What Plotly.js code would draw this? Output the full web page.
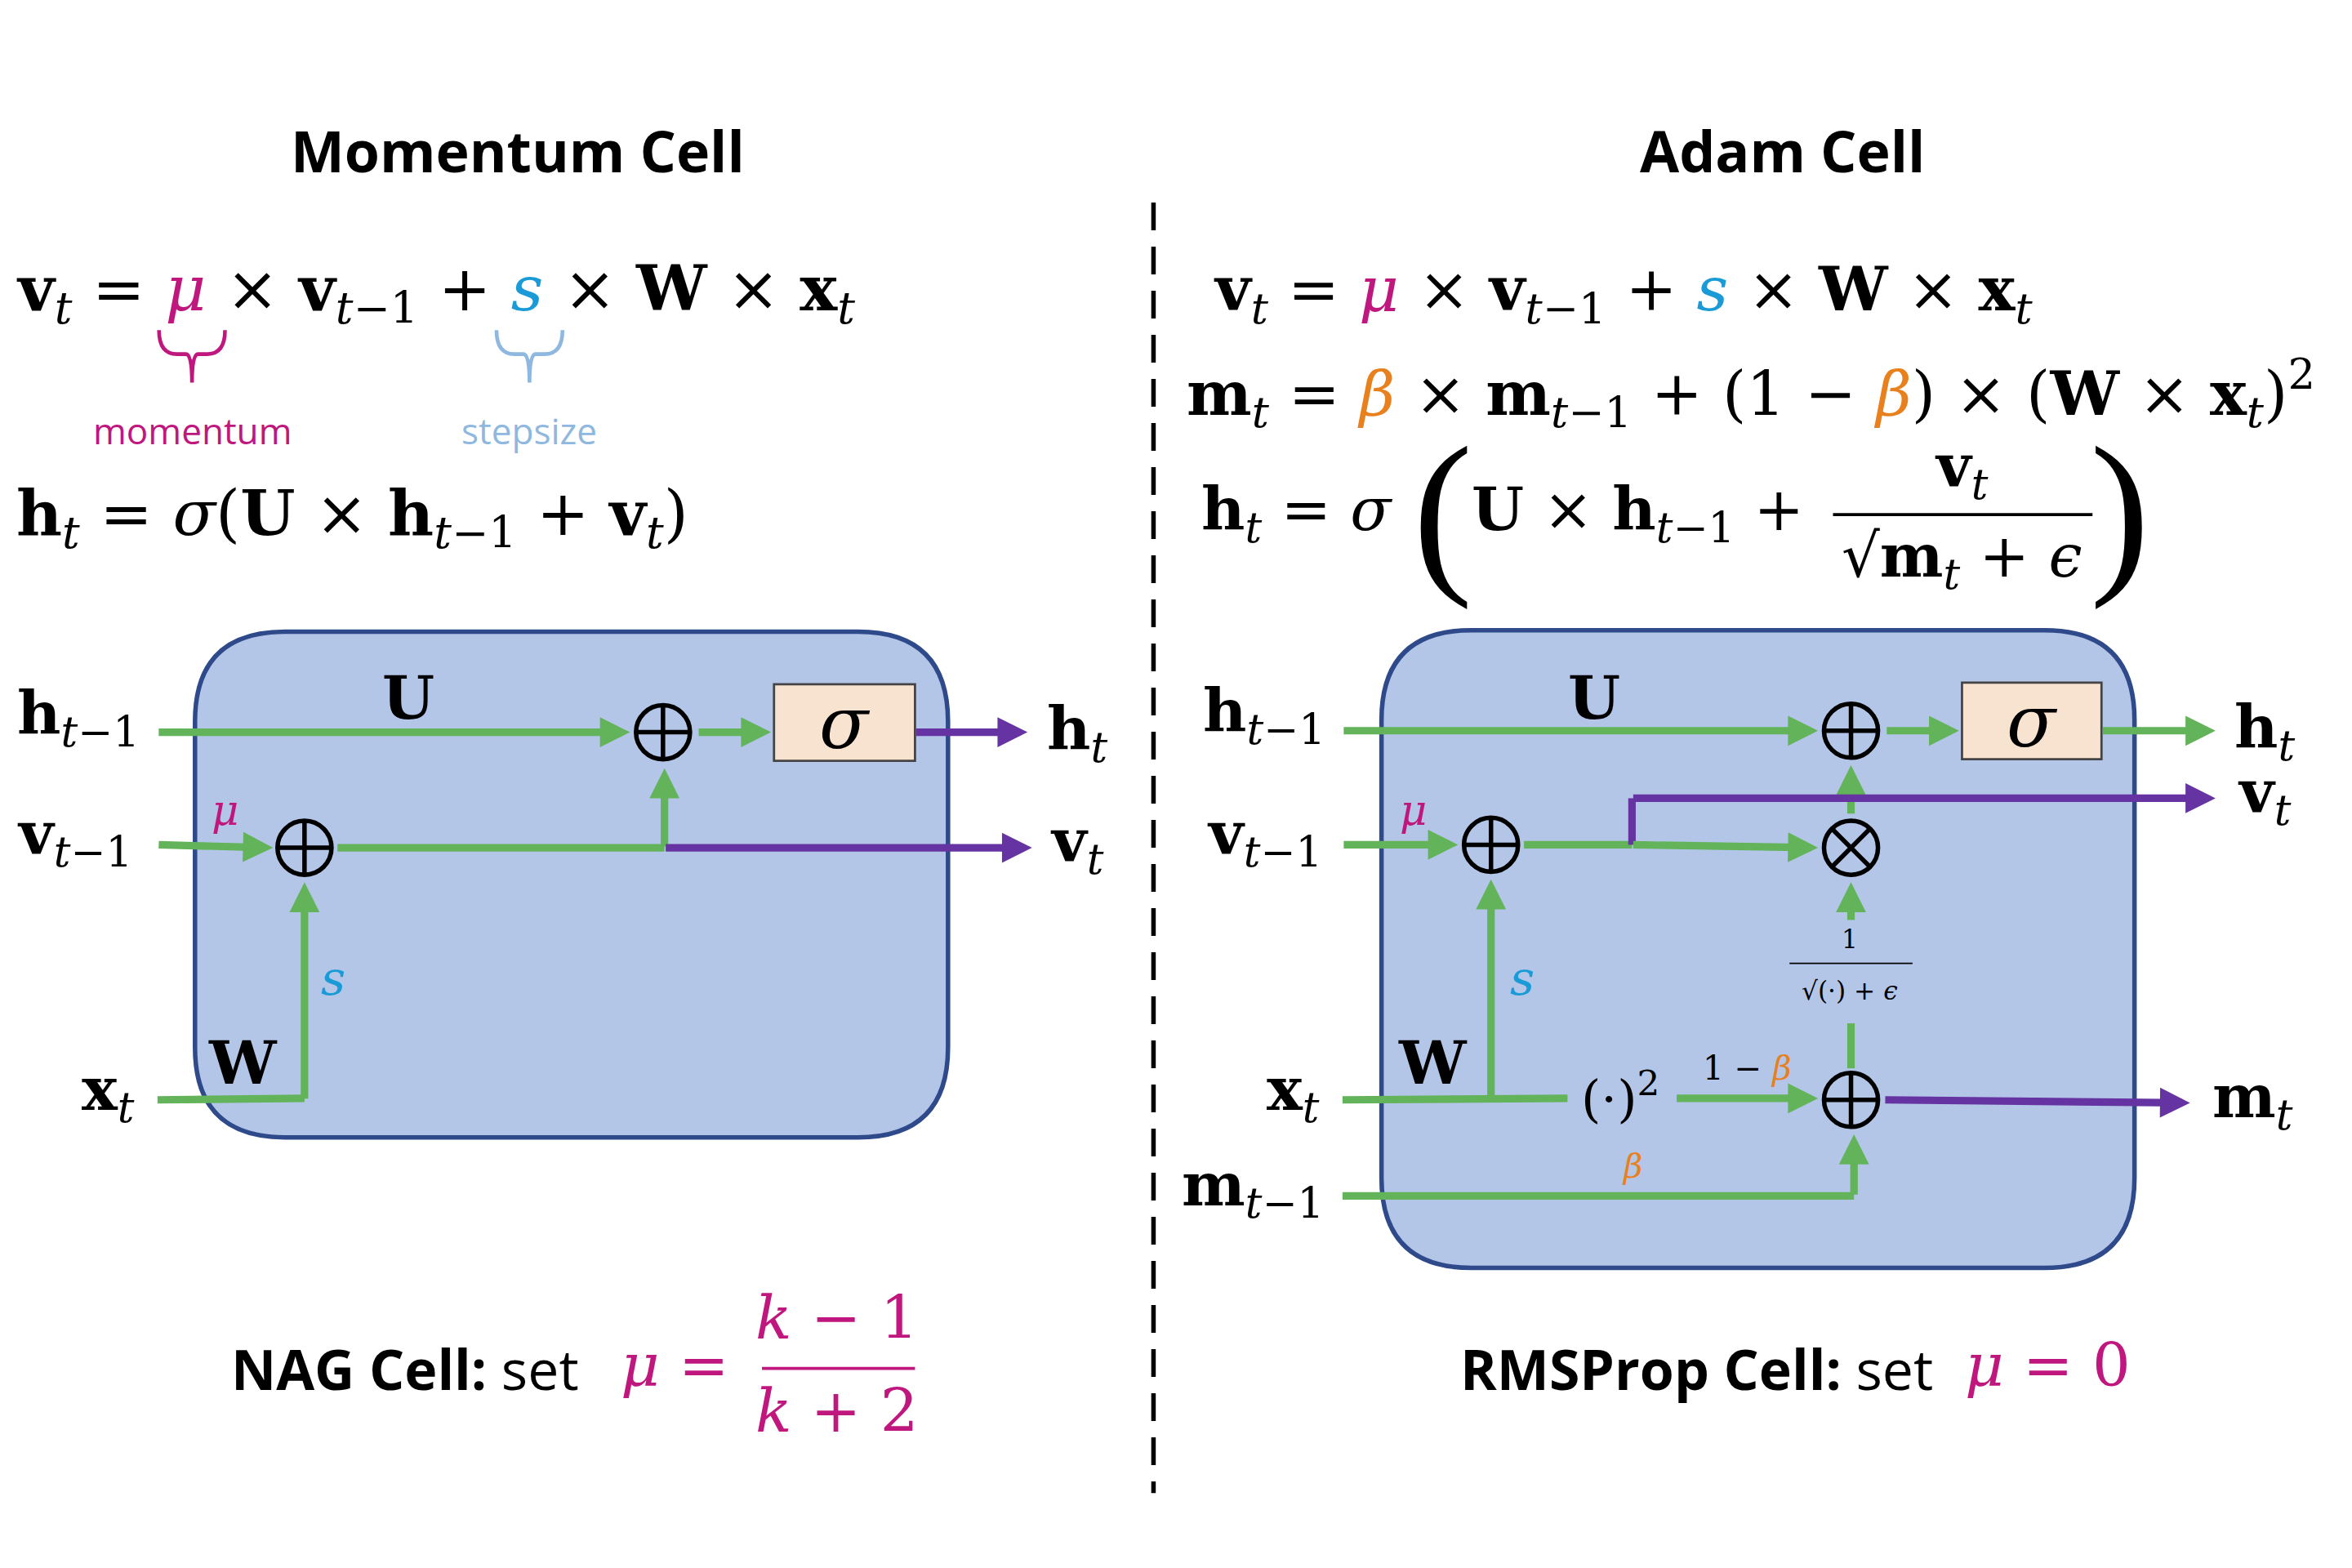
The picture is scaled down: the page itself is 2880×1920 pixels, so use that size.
<!DOCTYPE html>
<html>
<head>
<meta charset="utf-8">
<script src="https://cdn.plot.ly/plotly-3.0.1.min.js"></script>
<style>html,body{margin:0;padding:0;background:#fff}#fig{width:2880px;height:1920px}</style>
</head>
<body>
<div id="fig"></div>
<script>
// Diagram space is 1568 x 1045 units (y downwards); the page is 2880 x 1920 px.
const K = 2880 / 1568;
const GREEN = "#62b35a", PURPLE = "#6633a3", MAG = "#c0177f", CYAN = "#1a9bd7",
      LBLUE = "#8fb8e0", ORANGE = "#e8801e", BOX = "#b4c6e7", BOXLINE = "#2f4a8a";
const SERIF = "DejaVu Serif, Liberation Serif, serif";
const LSERIF = "Liberation Serif, serif";
const SANS = "Open Sans, Noto Sans, sans-serif";

// ---------- data ----------
const cellBoxes = [[130, 421, 632, 758], [921, 420, 1423, 845]];
const sigmaBoxes = [[516, 456, 610, 507], [1308, 455, 1401, 506]];
const plusNodes = [[442, 488], [203, 565], [1234, 487], [994, 563], [1234, 733]];
const timesNodes = [[1234, 565]];
const greenArrows = [
  [105, 488, 420, 488], [465, 488, 514, 488], [105, 563, 182, 565], [443, 565, 443, 512],
  [203, 733, 203, 588],
  [895, 487, 1212, 487], [1257, 487, 1306, 487], [1401, 487, 1477, 487],
  [895, 563, 972, 563], [1088, 563, 1212, 565], [1234, 543, 1234, 510],
  [1234, 614, 1234, 588], [994, 732, 994, 586], [1117, 732, 1212, 732], [1236, 797, 1236, 756]
];
const greenLines = [
  [[105, 203], [733, 732]], [[225, 443], [565, 565]],
  [[1016, 1088], [563, 563]], [[1234, 1234], [712, 682]],
  [[895, 1045], [733, 732]], [[895, 1236], [797, 797]]
];
const purpleArrows = [[610, 488, 685, 488], [443, 565, 688, 565], [1088, 532, 1477, 532], [1256, 733, 1460, 735]];
const purpleLines = [[[1088, 1088], [563, 532]]];
const fractionBars = [[1222, 1395, 343, 2], [1193, 1275, 642, 1], [508, 610, 912, 2]];

const b = s => "<b>" + s + "</b>";
const c = (col, s) => "<span style='color:" + col + "'>" + s + "</span>";
const mu = c(MAG, "<i>μ</i>"), ss = c(CYAN, "<i>s</i>"), be = c(ORANGE, "<i>β</i>");

// [x, y, text, size(units), anchor, font, color]
const texts = [
  [345, 100, "<b>Momentum Cell</b>", 38, "center", SANS, "#000"],
  [1188, 100, "<b>Adam Cell</b>", 38, "center", SANS, "#000"],
  [10, 195, b("v") + "<sub><i>t</i></sub> = " + mu + " × " + b("v") + "<sub><i>t</i>−1</sub> + " + ss + " × " + b("W") + " × " + b("x") + "<sub><i>t</i></sub>", 42, "left", SERIF, "#000"],
  [128, 287, "momentum", 24, "center", SANS, MAG],
  [353, 287, "stepsize", 24, "center", SANS, LBLUE],
  [10, 345, b("h") + "<sub><i>t</i></sub> = <i>σ</i>(" + b("U") + " × " + b("h") + "<sub><i>t</i>−1</sub> + " + b("v") + "<sub><i>t</i></sub>)", 42, "left", SERIF, "#000"],
  [808, 195, b("v") + "<sub><i>t</i></sub> = " + mu + " × " + b("v") + "<sub><i>t</i>−1</sub> + " + ss + " × " + b("W") + " × " + b("x") + "<sub><i>t</i></sub>", 41, "left", SERIF, "#000"],
  [790, 262, b("m") + "<sub><i>t</i></sub> = " + be + " × " + b("m") + "<sub><i>t</i>−1</sub> + (1 − " + be + ") × (" + b("W") + " × " + b("x") + "<sub><i>t</i></sub>)<sup>2</sup>", 41, "left", SERIF, "#000"],
  [800, 342, b("h") + "<sub><i>t</i></sub> = <i>σ</i>", 40, "left", SERIF, "#000"],
  [962, 340, "(", 120, "center", LSERIF, "#000"],
  [980, 342, b("U") + " × " + b("h") + "<sub><i>t</i>−1</sub> +", 40, "left", SERIF, "#000"],
  [1308, 313, b("v") + "<sub><i>t</i></sub>", 40, "center", SERIF, "#000"],
  [1308, 373, "√" + b("m") + "<sub><i>t</i></sub> + <i>ϵ</i>", 40, "center", SERIF, "#000"],
  [1413, 340, ")", 120, "center", LSERIF, "#000"],
  // left diagram labels
  [52, 478, b("h") + "<sub><i>t</i>−1</sub>", 40, "center", SERIF, "#000"],
  [272, 465, b("U"), 40, "center", SERIF, "#000"],
  [718, 488, b("h") + "<sub><i>t</i></sub>", 40, "center", SERIF, "#000"],
  [50, 558, b("v") + "<sub><i>t</i>−1</sub>", 40, "center", SERIF, "#000"],
  [150, 540, "<i>μ</i>", 28, "center", SERIF, MAG],
  [718, 563, b("v") + "<sub><i>t</i></sub>", 40, "center", SERIF, "#000"],
  [72, 728, b("x") + "<sub><i>t</i></sub>", 40, "center", SERIF, "#000"],
  [222, 652, "<i>s</i>", 32, "center", SERIF, CYAN],
  [162, 708, b("W"), 40, "center", SERIF, "#000"],
  [563, 482, "<i>σ</i>", 48, "center", SERIF, "#000"],
  // right diagram labels
  [843, 476, b("h") + "<sub><i>t</i>−1</sub>", 40, "center", SERIF, "#000"],
  [1063, 465, b("U"), 40, "center", SERIF, "#000"],
  [1355, 481, "<i>σ</i>", 48, "center", SERIF, "#000"],
  [1510, 487, b("h") + "<sub><i>t</i></sub>", 40, "center", SERIF, "#000"],
  [843, 558, b("v") + "<sub><i>t</i>−1</sub>", 40, "center", SERIF, "#000"],
  [942, 540, "<i>μ</i>", 28, "center", SERIF, MAG],
  [1510, 530, b("v") + "<sub><i>t</i></sub>", 40, "center", SERIF, "#000"],
  [1233, 626, "1", 17, "center", SERIF, "#000"],
  [1233, 660, "√(·) + <i>ϵ</i>", 17, "center", SERIF, "#000"],
  [862, 728, b("x") + "<sub><i>t</i></sub>", 40, "center", SERIF, "#000"],
  [1015, 652, "<i>s</i>", 32, "center", SERIF, CYAN],
  [955, 708, b("W"), 40, "center", SERIF, "#000"],
  [1080, 730, "(·)<sup>2</sup>", 34, "center", SERIF, "#000"],
  [1165, 712, "1 − " + be, 22, "center", SERIF, "#000"],
  [1502, 733, b("m") + "<sub><i>t</i></sub>", 40, "center", SERIF, "#000"],
  [835, 792, b("m") + "<sub><i>t</i>−1</sub>", 40, "center", SERIF, "#000"],
  [1088, 777, "<i>β</i>", 22, "center", SERIF, ORANGE],
  // bottom
  [387, 912, "<b>NAG Cell:</b> set", 37, "right", SANS, "#000"],
  [450, 910, "<i>μ</i> =", 40, "center", SERIF, MAG],
  [558, 878, "<i>k</i> − 1", 40, "center", SERIF, MAG],
  [558, 940, "<i>k</i> + 2", 40, "center", SERIF, MAG],
  [1290, 912, "<b>RMSProp Cell:</b> set", 37, "right", SANS, "#000"],
  [1365, 910, "<i>μ</i> = 0", 40, "center", SERIF, MAG]
];

// ---------- build ----------
const shapes = [], annotations = [];

function roundRect(x0, y0, x1, y1, r) {
  return "M" + (x0 + r) + "," + y0 + " L" + (x1 - r) + "," + y0 + " Q" + x1 + "," + y0 + " " + x1 + "," + (y0 + r) +
    " L" + x1 + "," + (y1 - r) + " Q" + x1 + "," + y1 + " " + (x1 - r) + "," + y1 +
    " L" + (x0 + r) + "," + y1 + " Q" + x0 + "," + y1 + " " + x0 + "," + (y1 - r) +
    " L" + x0 + "," + (y0 + r) + " Q" + x0 + "," + y0 + " " + (x0 + r) + "," + y0 + " Z";
}
cellBoxes.forEach(([x0, y0, x1, y1]) => shapes.push({ type: "path", path: roundRect(x0, y0, x1, y1, 60),
  fillcolor: BOX, line: { color: BOXLINE, width: 3 * K }, layer: "below" }));
sigmaBoxes.forEach(([x0, y0, x1, y1]) => shapes.push({ type: "rect", x0, y0, x1, y1,
  fillcolor: "#f8e2d0", line: { color: "#444", width: 1.5 * K } }));

// dashed divider
shapes.push({ type: "line", x0: 769, x1: 769, y0: 135, y1: 995, line: { color: "#000", width: 3 * K, dash: "34px,20px" } });

// braces
function brace(xm, col) {
  const w = 22;
  return { type: "path", line: { color: col, width: 2.5 * K },
    path: "M" + (xm - w) + ",220 Q" + (xm - w) + ",236 " + (xm - 10) + ",236 L" + (xm - 4) + ",236 Q" + xm + ",236 " + xm + ",255" +
          " M" + (xm + w) + ",220 Q" + (xm + w) + ",236 " + (xm + 10) + ",236 L" + (xm + 4) + ",236 Q" + xm + ",236 " + xm + ",255" };
}
shapes.push(brace(128, MAG), brace(353, LBLUE));

const lineSeg = (xs, ys, col) => shapes.push({ type: "line", x0: xs[0], x1: xs[1], y0: ys[0], y1: ys[1], line: { color: col, width: 5 * K } });
greenLines.forEach(([xs, ys]) => lineSeg(xs, ys, GREEN));
purpleLines.forEach(([xs, ys]) => lineSeg(xs, ys, PURPLE));

fractionBars.forEach(([x0, x1, y, w]) => shapes.push({ type: "line", x0, x1, y0: y, y1: y,
  line: { color: y > 800 ? MAG : "#000", width: w * K } }));

function arrow([ax, ay, x, y], col) {
  annotations.push({ x, y, ax, ay, xref: "x", yref: "y", axref: "x", ayref: "y", text: "",
    showarrow: true, arrowhead: 2, arrowsize: 0.8, arrowwidth: 5 * K, arrowcolor: col, standoff: 0 });
}
greenArrows.forEach(a => arrow(a, GREEN));
purpleArrows.forEach(a => arrow(a, PURPLE));

const R = 18;
function node([x, y], kind) {
  shapes.push({ type: "circle", x0: x - R, x1: x + R, y0: y - R, y1: y + R, line: { color: "#000", width: 3 * K } });
  const d = kind === "plus" ? R : R * 0.707;
  const l = { color: "#000", width: 3 * K };
  if (kind === "plus") {
    shapes.push({ type: "line", x0: x - d, x1: x + d, y0: y, y1: y, line: l });
    shapes.push({ type: "line", x0: x, x1: x, y0: y - d, y1: y + d, line: l });
  } else {
    shapes.push({ type: "line", x0: x - d, x1: x + d, y0: y - d, y1: y + d, line: l });
    shapes.push({ type: "line", x0: x - d, x1: x + d, y0: y + d, y1: y - d, line: l });
  }
}
plusNodes.forEach(p => node(p, "plus"));
timesNodes.forEach(p => node(p, "times"));

texts.forEach(([x, y, text, size, anchor, family, color]) => annotations.push({
  x, y, xref: "x", yref: "y", text, showarrow: false, xanchor: anchor, yanchor: "middle",
  font: { size: size * K, family, color }
}));

const layout = {
  width: 2880, height: 1920, margin: { l: 0, r: 0, t: 0, b: 0 },
  paper_bgcolor: "#fff", plot_bgcolor: "#fff", showlegend: false,
  xaxis: { range: [0, 1568], visible: false, fixedrange: true },
  yaxis: { range: [1045, 0], visible: false, fixedrange: true },
  shapes, annotations
};
Plotly.newPlot("fig", [{ x: [], y: [], type: "scatter" }], layout, { displayModeBar: false, staticPlot: true });
</script>
</body>
</html>
